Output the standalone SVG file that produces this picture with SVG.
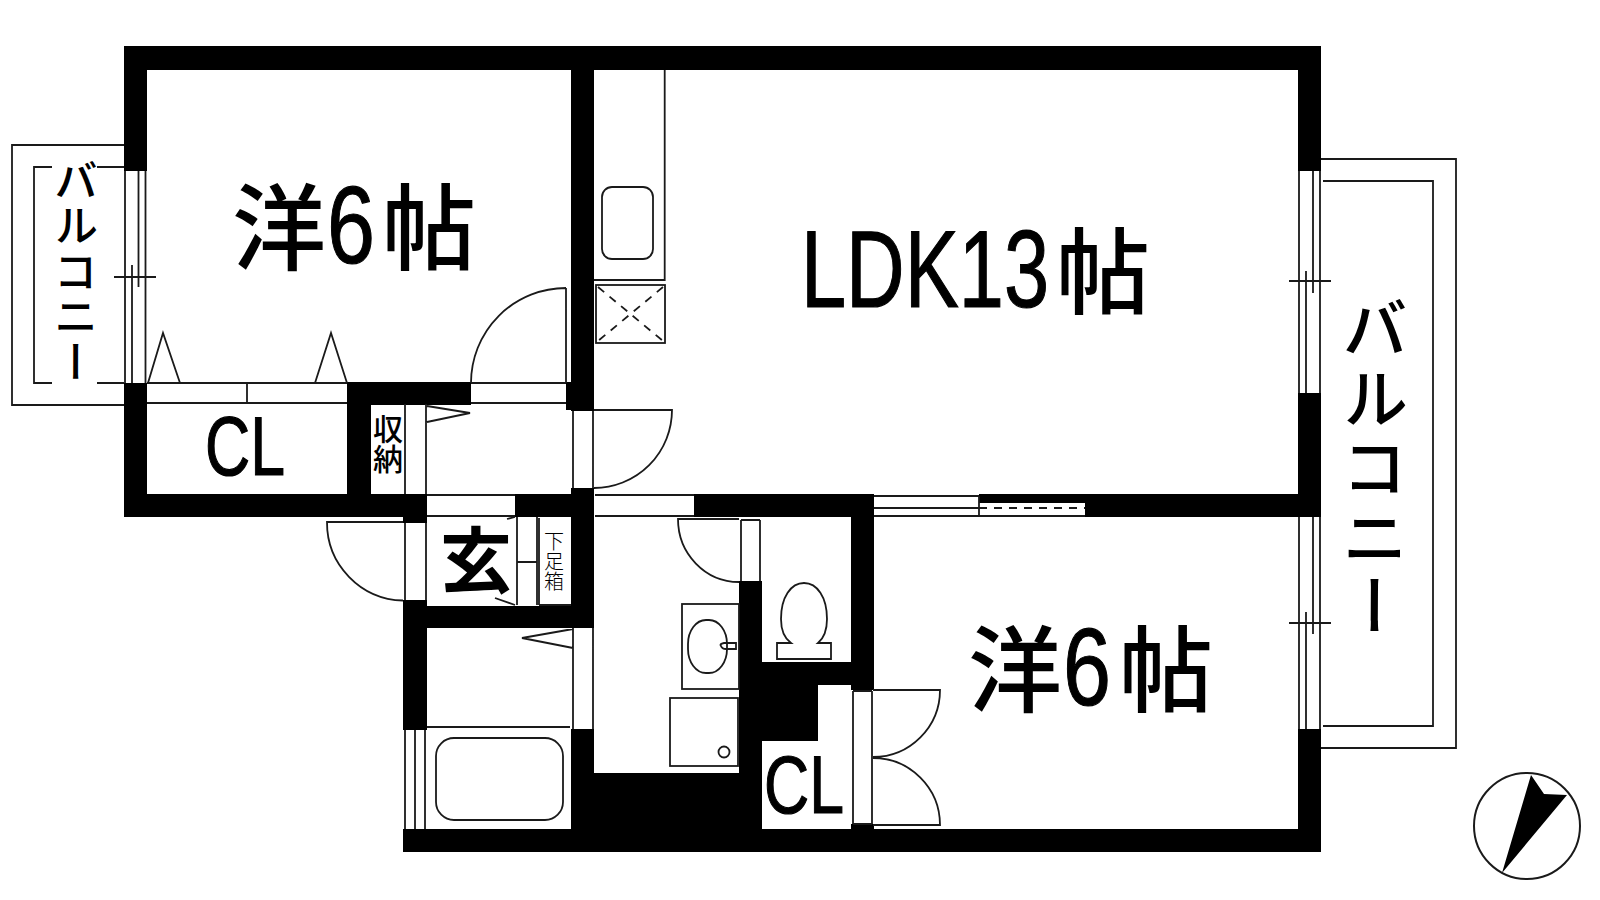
<svg xmlns="http://www.w3.org/2000/svg" width="1600" height="900" viewBox="0 0 1600 900">
<style>
.l{fill:none;stroke:#1a1a1a;stroke-width:1.8}
.w{fill:#000}
.t{fill:#000;font-family:"Noto Sans CJK JP","Noto Sans",sans-serif;font-weight:500}
.n{font-family:"Liberation Sans",sans-serif;font-weight:400;stroke:#000;stroke-width:1.2}
.v{writing-mode:vertical-rl}
</style>
<rect width="1600" height="900" fill="#fff"/>
<g id="walls" class="w">
<rect x="124" y="46" width="1197" height="24"/>
<rect x="124" y="46" width="23" height="125"/>
<rect x="124" y="383" width="23" height="134"/>
<rect x="124" y="494" width="303" height="23"/>
<rect x="347" y="382" width="24" height="112"/>
<rect x="347" y="382" width="124" height="23"/>
<rect x="571" y="46" width="23" height="365"/>
<rect x="566" y="382" width="28" height="28"/>
<rect x="571" y="488" width="23" height="140"/>
<rect x="515" y="494" width="79" height="23"/>
<rect x="403" y="517" width="24" height="6"/>
<rect x="403" y="600" width="24" height="130"/>
<rect x="403" y="606" width="191" height="22"/>
<rect x="571" y="729" width="23" height="123"/>
<rect x="571" y="773" width="191" height="79"/>
<rect x="403" y="829" width="918" height="23"/>
<rect x="694" y="494" width="180" height="23"/>
<rect x="851" y="494" width="23" height="196"/>
<rect x="739" y="581" width="23" height="248"/>
<rect x="739" y="662" width="135" height="23"/>
<rect x="739" y="685" width="79" height="56"/>
<rect x="851" y="824" width="23" height="5"/>
<rect x="1298" y="46" width="23" height="125"/>
<rect x="1298" y="393" width="23" height="124"/>
<rect x="1298" y="729" width="23" height="123"/>
<rect x="1085" y="494" width="236" height="23"/>
<rect x="979" y="494" width="106" height="9"/>
</g>
<g id="balconies" class="l">
<path d="M124 145H12V405H124"/>
<path d="M124 167H97M52 167H34V383H52M97 383H124"/>
<path d="M1321 159H1456V748H1321"/>
<path d="M1323 181H1433V726H1323"/>
</g>
<g id="windows" class="l">
<path d="M125 171V383M145.500 171V383M132 265V383M138.500 171V287M114 277H156"/>
<path d="M1299 171V393M1320 171V393M1306 271V393M1313 171V293M1289 281H1331"/>
<path d="M1299 517V729M1320 517V729M1306 612V729M1313 517V634M1289 623H1331"/>
<path d="M405 730V829M415 730V829M425 730V829"/>
<path d="M874 496H979M874 508H979M874 516H1085M979 496V516"/>
<path d="M979 508H1085" stroke-dasharray="8 7"/>
</g>
<g id="doors" class="l">
<path d="M147 383H347M147 403H347M247 383V403"/>
<path d="M148 383L163 333L180 383M315 383L331 333L347 383"/>
<path d="M471 383H566M471 403H566M566 288V383M471 383A95 95 0 0 1 566 288"/>
<path d="M427 406L470 413L427 422M405 404V494M426 404V494"/>
<path d="M573 411V488M593 411V488M594 410H672A78 78 0 0 1 594 488"/>
<path d="M427 495H515M427 516H515M595 495H694M595 516H694"/>
<path d="M405 523V600M426 523V600M403 522H327A78 78 0 0 0 403 600.500"/>
<path d="M507 519L515 517M495 598L515 605"/>
<path d="M573 628V729M593 628V729M573 629L522 638L573 648M427 727H570"/>
<path d="M741 520V581M760 520V581M741 520H760M739 519H678A61 63 0 0 0 739 582"/>
<path d="M853 691V824M872 691V824M853 691H872M853 824H872"/>
<path d="M873 690H940A67 67 0 0 1 873 757M873 758A67 67 0 0 1 940 825H873"/>
</g>
<g id="fixtures" class="l">
<path d="M517 517V605M537 517V605M539 518V605M517 562H537M539 605H571"/>
<path d="M664.700 70V280H594"/>
<rect x="602" y="187" width="51" height="72" rx="10"/>
<rect x="596" y="285" width="69" height="58"/>
<path d="M598 287L663 341M663 287L598 341" stroke-dasharray="8 7"/>
<rect x="436" y="738" width="127" height="82" rx="18"/>
<rect x="682" y="604" width="57" height="85"/>
<rect x="688" y="620" width="39" height="53" rx="18" ry="24"/>
<path d="M736 643H724Q719 644 721 646Q722 649 726 649H736Z"/>
<rect x="670" y="698" width="68" height="68"/>
<circle cx="724" cy="752" r="5.500"/>
<path d="M791 643C784 638 781 630 781 619C781 597 791 583 804 583C817 583 827 597 827 619C827 630 824 638 818 643H831V659H777V643Z"/>
</g>
<g id="labels">
<text class="t" y="263" font-size="94"><tspan x="232">洋</tspan><tspan class="n" x="327" font-size="110" textLength="48" lengthAdjust="spacingAndGlyphs">6</tspan><tspan x="382">帖</tspan></text>
<text class="t" y="705" font-size="94"><tspan x="968">洋</tspan><tspan class="n" x="1063" font-size="110" textLength="48" lengthAdjust="spacingAndGlyphs">6</tspan><tspan x="1119">帖</tspan></text>
<text class="t" y="307" font-size="94"><tspan class="n" x="801" font-size="110" textLength="248" lengthAdjust="spacingAndGlyphs">LDK13</tspan><tspan x="1056">帖</tspan></text>
<text class="t n" x="205" y="475" font-size="84" textLength="80" lengthAdjust="spacingAndGlyphs">CL</text>
<text class="t n" x="764" y="813" font-size="82" textLength="80" lengthAdjust="spacingAndGlyphs">CL</text>
<text class="t v" x="76" y="158" font-size="44" letter-spacing="1.500">バルコニー</text>
<text class="t v" x="1375" y="295" font-size="66" letter-spacing="3.500">バルコニー</text>
<text class="t v" x="388" y="414" font-size="30">収納</text>
<text class="t v" x="554" y="531" font-size="20" style="font-weight:300">下足箱</text>
<text class="t" x="440" y="587" font-size="72" style="font-weight:700">玄</text>
</g>
<g id="compass">
<circle cx="1527" cy="826" r="53" fill="#fff" stroke="#1a1a1a" stroke-width="2"/>
<path d="M1502 873L1531 775L1544 794L1567 795Z" fill="#000"/>
</g>
</svg>
